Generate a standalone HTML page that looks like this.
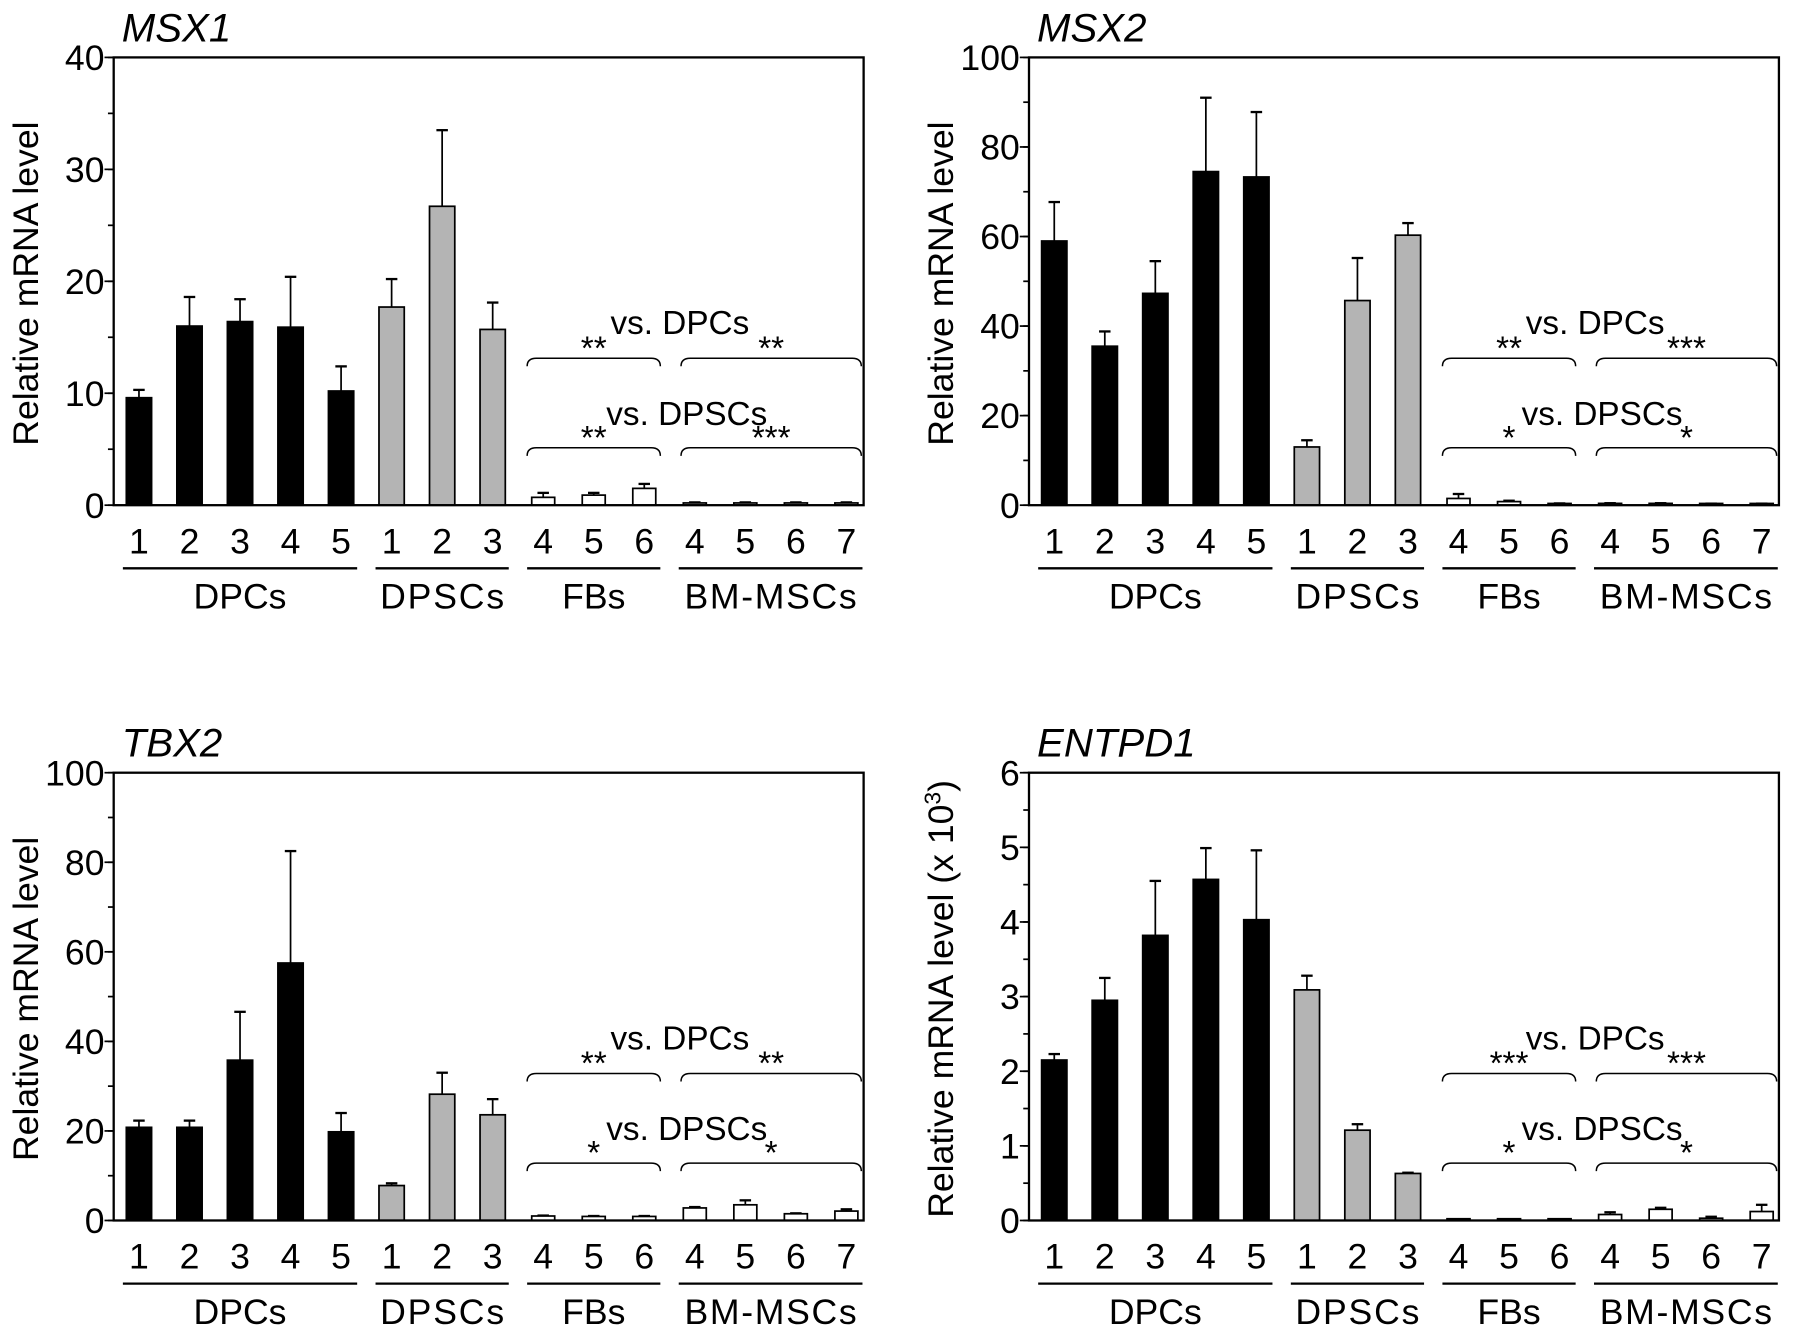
<!DOCTYPE html>
<html><head><meta charset="utf-8"><style>
html,body{margin:0;padding:0;background:#fff;}
svg{display:block;font-family:"Liberation Sans",Arial,sans-serif;}
</style></head><body>
<svg id="fig" width="1795" height="1333" viewBox="0 0 1563 1161" preserveAspectRatio="none" xmlns="http://www.w3.org/2000/svg"></svg>
<script>
const catLabels = ["1","2","3","4","5","1","2","3","4","5","6","4","5","6","7"];
const groupNames = ["DPCs","DPSCs","FBs","BM-MSCs"];
const msx1Values = [9.6,16,16.4,15.9,10.2,17.7,26.7,15.7,0.7,0.9,1.5,0.2,0.2,0.2,0.2];
const msx1Errors = [0.7,2.6,2,4.5,2.2,2.5,6.8,2.4,0.4,0.2,0.4,0.05,0.05,0.05,0.05];
const msx1Ticks = [0,10,20,30,40];
const msx1Stars = ["**","**","**","***"];
const msx2Values = [59,35.5,47.3,74.5,73.3,13,45.7,60.3,1.5,0.8,0.3,0.4,0.4,0.3,0.3];
const msx2Errors = [8.7,3.3,7.2,16.5,14.5,1.5,9.5,2.7,1,0.2,0.1,0.05,0.05,0.05,0.05];
const msx2Ticks = [0,20,40,60,80,100];
const msx2Stars = ["**","***","*","*"];
const tbx2Values = [20.8,20.8,35.8,57.5,19.8,7.8,28.2,23.6,1,0.9,0.9,2.8,3.5,1.5,2.1];
const tbx2Errors = [1.5,1.5,10.8,25,4.2,0.5,4.8,3.5,0.1,0.1,0.1,0.2,1,0.1,0.4];
const tbx2Ticks = [0,20,40,60,80,100];
const tbx2Stars = ["**","**","*","*"];
const entValues = [2.15,2.95,3.82,4.57,4.03,3.09,1.21,0.63,0.02,0.02,0,0.08,0.15,0.03,0.12];
const entErrors = [0.08,0.3,0.73,0.42,0.93,0.19,0.08,0.01,0,0,0,0.03,0.02,0.02,0.09];
const entTicks = [0,1,2,3,4,5,6];
const entStars = ["***","***","*","*"];

const NS="http://www.w3.org/2000/svg";
const svg=document.getElementById('fig');
function mk(tag,attrs,parent,text){const e=document.createElementNS(NS,tag);for(const k in attrs)e.setAttribute(k,attrs[k]);if(text!==undefined)e.textContent=text;(parent||svg).appendChild(e);return e;}

function panel(ox,oy,title,yTitle,values,errors,ticks,minorStep,stars,id){
  const g=mk('g',{});
  
  
  const L=ox+99,R=ox+752,T=oy+50,B=oy+440;
  const yMax=ticks[ticks.length-1];
  const y=v=>B-(v/yMax)*(B-T);
  const x=i=>ox+121+i*44;
  const t=mk('text',{x:ox+106,y:oy+36,'font-size':35,'font-style':'italic'},g,title);
  
  
  const yt=mk('text',{x:0,y:0,'font-size':31,'text-anchor':'middle',transform:`translate(${ox+33},${(T+B)/2+2}) rotate(-90)`},g);
  
  
  if(yTitle.sup){yt.textContent=yTitle.text;mk('tspan',{dy:-11,'font-size':20},yt,'3');mk('tspan',{dy:11},yt,')');}else yt.textContent=yTitle.text;
  for(let v=0;v<=yMax+1e-9;v+=minorStep){mk('line',{x1:L-5,x2:L,y1:y(v),y2:y(v),stroke:'#000','stroke-width':1.5},g);}
  ticks.forEach(v=>{
    const tl=mk('text',{x:L-8,y:y(v)+11,'font-size':31,'text-anchor':'end'},g,String(v));
    
    
    mk('line',{x1:L-8,x2:L,y1:y(v),y2:y(v),stroke:'#000','stroke-width':1.5},g);
  });
  values.forEach((v,i)=>{
    const fill=i<5?'#000':(i<8?'#b4b4b4':'#fff');
    const w=i<8?22:20;
    const e=errors[i];
    if(e>0){
      mk('line',{x1:x(i),x2:x(i),y1:y(v),y2:y(v+e),stroke:'#000','stroke-width':1.5},g);
      mk('line',{x1:x(i)-5,x2:x(i)+5,y1:y(v+e),y2:y(v+e),stroke:'#000','stroke-width':2},g);
    }
    const h=Math.max(B-y(v),1.5);
    const r=mk('rect',{x:x(i)-w/2,y:B-h,width:w,height:h,fill:fill,stroke:'#000','stroke-width':1.5},g);
    
    
  });
  const box=mk('rect',{x:L,y:T,width:R-L,height:B-T,fill:'none',stroke:'#000','stroke-width':2},g);
  
  
  catLabels.forEach((c,i)=>{
    const tl=mk('text',{x:x(i),y:B+42,'font-size':31,'text-anchor':'middle'},g,c);
    
    
  });
  const spans=[[0,4],[5,7],[8,10],[11,14]];
  spans.forEach((s,k)=>{
    const x1=x(s[0])-14,x2=x(s[1])+14;
    mk('line',{x1:x1,x2:x2,y1:B+55,y2:B+55,stroke:'#000','stroke-width':2},g);
    const gl=mk('text',{x:(x1+x2)/2,y:B+90,'font-size':31,'text-anchor':'middle'},g,groupNames[k]);
    if(k===1)gl.setAttribute('textLength',108);
    if(k===3)gl.setAttribute('textLength',150);
    
    
  });
  const br=[[x(8)-14,x(10)+14],[x(11)-12,x(14)+13]];
  [[oy+312,0],[oy+390,2]].forEach(([by,si])=>{
    br.forEach((b,k)=>{
      mk('path',{d:`M${b[0]} ${by+7} Q${b[0]} ${by} ${b[0]+8} ${by} L${b[1]-8} ${by} Q${b[1]} ${by} ${b[1]} ${by+7}`,fill:'none',stroke:'#000','stroke-width':1.3},g);
      const st=mk('text',{x:(b[0]+b[1])/2,y:by+1,'font-size':29,'text-anchor':'middle'},g,stars[si+k]);
      
      
    });
  });
  const v1=mk('text',{x:ox+592,y:oy+291,'font-size':29,'text-anchor':'middle'},g,'vs. DPCs');
  
  
  const v2=mk('text',{x:ox+598,y:oy+370,'font-size':29,'text-anchor':'middle'},g,'vs. DPSCs');
  
  
}
panel(0,0,'MSX1',{text:'Relative mRNA level'},msx1Values,msx1Errors,msx1Ticks,5,msx1Stars,'msx1');
panel(797,0,'MSX2',{text:'Relative mRNA level'},msx2Values,msx2Errors,msx2Ticks,10,msx2Stars,'msx2');
panel(0,623,'TBX2',{text:'Relative mRNA level'},tbx2Values,tbx2Errors,tbx2Ticks,10,tbx2Stars,'tbx2');
panel(797,623,'ENTPD1',{text:'Relative mRNA level (x 10',sup:true},entValues,entErrors,entTicks,0.5,entStars,'entpd1');
</script>
</body></html>
